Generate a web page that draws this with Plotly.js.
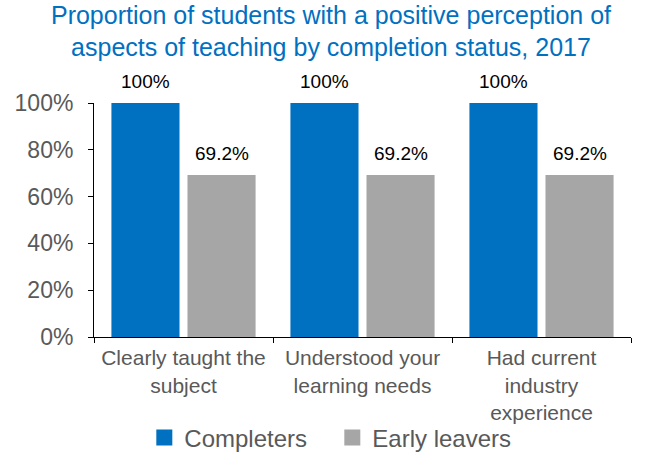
<!DOCTYPE html>
<html>
<head>
<meta charset="utf-8">
<script src="https://cdn.plot.ly/plotly-3.0.1.min.js"></script>
<style>html,body{margin:0;padding:0;background:#fff;}#chart{width:662px;height:452px;}</style>
</head>
<body>
<div id="chart"></div>
<script>
const categories = ["Clearly taught the<br>subject", "Understood your<br>learning needs", "Had current<br>industry<br>experience"];
const seriesNames = ["Completers", "Early leavers"];
const completers = [1.0, 1.0, 1.0];
const earlyLeavers = [0.692, 0.692, 0.692];
const completersLabels = ["100%", "100%", "100%"];
const earlyLeaversLabels = ["69.2%", "69.2%", "69.2%"];
const yTickVals = [0, 0.2, 0.4, 0.6, 0.8, 1.0];
const yTickText = ["0%", "20%", "40%", "60%", "80%", "100%"];

const colors = ["#0070C0", "#A6A6A6"];
const font = "Liberation Sans, Arial, sans-serif";

const traces = [
  {type: "bar", name: seriesNames[0], x: categories, y: completers, marker: {color: colors[0]}, hoverinfo: "none", showlegend: false},
  {type: "bar", name: seriesNames[1], x: categories, y: earlyLeavers, marker: {color: colors[1]}, hoverinfo: "none", showlegend: false},
  // legend-only entries (larger square swatches)
  {type: "scatter", mode: "markers", name: seriesNames[0], x: [null], y: [null], marker: {symbol: "square", size: 16, color: colors[0]}, hoverinfo: "none"},
  {type: "scatter", mode: "markers", name: seriesNames[1], x: [null], y: [null], marker: {symbol: "square", size: 16, color: colors[1]}, hoverinfo: "none"}
];

const annotations = [];
[[completers, completersLabels, -38], [earlyLeavers, earlyLeaversLabels, 38]].forEach(([vals, labels, shift]) => {
  vals.forEach((v, i) => {
    annotations.push({x: categories[i], y: v, xref: "x", yref: "y", text: labels[i], showarrow: false,
      xshift: shift, yshift: 9, yanchor: "bottom", font: {family: font, size: 19, color: "#000"}});
  });
});

const layout = {
  width: 662, height: 452,
  margin: {l: 94, r: 31, t: 103, b: 115},
  paper_bgcolor: "#fff", plot_bgcolor: "#fff",
  barmode: "group", bargap: 0.15, bargroupgap: 0.105,
  title: {text: "Proportion of students with a positive perception of<br>aspects of teaching by completion status, 2017",
    font: {family: font, size: 25, color: "#0070C0"}, x: 0.5, xref: "container", xanchor: "center", y: 0.947, yref: "container", yanchor: "top"},
  xaxis: {type: "category", tickson: "boundaries", ticks: "outside", ticklen: 5, tickcolor: "#000", showline: true, linecolor: "#000", linewidth: 1,
    tickfont: {family: font, size: 21, color: "#595959"}, ticklabelstandoff: 2, showgrid: false, zeroline: false, automargin: false},
  yaxis: {range: [0, 1], tickvals: yTickVals, ticktext: yTickText, ticks: "outside", ticklen: 5, tickcolor: "#000",
    showline: true, linecolor: "#000", linewidth: 1, showgrid: false, zeroline: false, automargin: false,
    tickfont: {family: font, size: 23, color: "#595959"}, ticklabelstandoff: 10},
  showlegend: true,
  legend: {orientation: "h", x: 0.218, xref: "container", xanchor: "left", y: 0.031, yref: "container", yanchor: "middle",
    bgcolor: "rgba(0,0,0,0)", font: {family: font, size: 24, color: "#595959"}, entrywidth: 143, entrywidthmode: "pixels", traceorder: "normal"},
  annotations: annotations
};

Plotly.newPlot("chart", traces, layout, {displayModeBar: false, staticPlot: true});
</script>
</body>
</html>
